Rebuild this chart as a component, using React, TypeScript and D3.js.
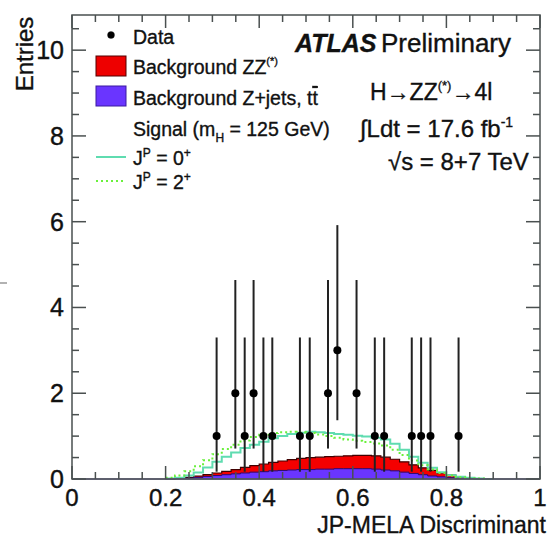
import React, { useEffect, useRef } from 'react';
import * as d3 from 'd3';

// histogram bins (width 0.02) starting at 0.20
const binStart = 0.2;
const binWidth = 0.02;
const zjets = [0.0, 0.01, 0.02, 0.04, 0.06, 0.08, 0.1, 0.12, 0.14, 0.16, 0.17, 0.19, 0.2, 0.21, 0.22, 0.22, 0.23, 0.23, 0.24, 0.24, 0.24, 0.24, 0.23, 0.21, 0.19, 0.16, 0.13, 0.1, 0.07, 0.05, 0.03, 0.02, 0.01, 0.005, 0.0];
const zz = [0.005, 0.01, 0.02, 0.03, 0.04, 0.06, 0.08, 0.1, 0.13, 0.15, 0.18, 0.2, 0.22, 0.24, 0.26, 0.28, 0.28, 0.29, 0.29, 0.3, 0.31, 0.31, 0.31, 0.3, 0.27, 0.24, 0.2, 0.16, 0.13, 0.09, 0.06, 0.03, 0.02, 0.005, 0.0];
const sig0 = [0.01, 0.03, 0.08, 0.15, 0.27, 0.4, 0.52, 0.62, 0.72, 0.8, 0.87, 0.95, 1.0, 1.05, 1.08, 1.1, 1.09, 1.07, 1.05, 1.03, 1.01, 0.99, 0.96, 0.92, 0.82, 0.68, 0.52, 0.38, 0.26, 0.16, 0.09, 0.05, 0.03, 0.01, 0.0];
const sig2 = [0.03, 0.08, 0.18, 0.3, 0.44, 0.58, 0.7, 0.8, 0.9, 0.98, 1.03, 1.07, 1.09, 1.1, 1.09, 1.07, 1.04, 1.0, 0.96, 0.92, 0.89, 0.86, 0.83, 0.78, 0.68, 0.56, 0.43, 0.32, 0.22, 0.14, 0.08, 0.04, 0.02, 0.01, 0.0];

// data points
const dataX = [0.309, 0.349, 0.369, 0.388, 0.409, 0.428, 0.487, 0.508, 0.547, 0.567, 0.608, 0.647, 0.667, 0.726, 0.746, 0.766, 0.826];
const dataY = [1, 2, 1, 2, 1, 1, 1, 1, 2, 3, 2, 1, 1, 1, 1, 1, 1];
const errLo = [0.83, 1.29, 0.83, 1.29, 0.83, 0.83, 0.83, 0.83, 1.29, 1.63, 1.29, 0.83, 0.83, 0.83, 0.83, 0.83, 0.83];
const errHi = [2.3, 2.64, 2.3, 2.64, 2.3, 2.3, 2.3, 2.3, 2.64, 2.92, 2.64, 2.3, 2.3, 2.3, 2.3, 2.3, 2.3];

const xTicks = [0, 0.2, 0.4, 0.6, 0.8, 1];
const yTicks = [0, 2, 4, 6, 8, 10];

const W = 549;
const H = 538;
const FONT = '"Liberation Sans", Arial, Helvetica, sans-serif';

export default function App() {
  const ref = useRef<SVGGElement>(null);

  useEffect(() => {
    const svg = d3.select(ref.current);
    svg.selectAll('*').remove();

    const left = 72, right = 540, top = 15, bottom = 479;
    const x = d3.scaleLinear().domain([0, 1]).range([left, right]);
    const y = d3.scaleLinear().domain([0, 10.82]).range([bottom, top]);

    const edges = (vals: number[]) => {
      const pts = vals.map((v, i) => ({ x: binStart + i * binWidth, y: v }));
      pts.push({ x: binStart + vals.length * binWidth, y: vals[vals.length - 1] });
      return pts;
    };

    const stacked = zjets.map((v, i) => v + zz[i]);

    const area = d3.area<{ x: number; y: number }>()
      .x(d => x(d.x))
      .y0(y(0))
      .y1(d => y(d.y))
      .curve(d3.curveStepAfter);
    const line = d3.line<{ x: number; y: number }>()
      .x(d => x(d.x))
      .y(d => y(d.y))
      .curve(d3.curveStepAfter);

    const g = svg.append('g');

    // ZZ on top of Z+jets
    g.append('path').datum(edges(stacked)).attr('d', area).attr('fill', '#f40000');
    g.append('path').datum(edges(stacked)).attr('d', line).attr('fill', 'none').attr('stroke', '#400000').attr('stroke-width', 1.2);
    g.append('path').datum(edges(zjets)).attr('d', area).attr('fill', '#6a35ff');
    g.append('path').datum(edges(zjets)).attr('d', line).attr('fill', 'none').attr('stroke', '#2a0a70').attr('stroke-width', 1);

    // signal hypotheses
    g.append('path').datum(edges(sig0)).attr('d', line).attr('fill', 'none').attr('stroke', '#5fdcb0').attr('stroke-width', 2);
    g.append('path').datum(edges(sig2)).attr('d', line).attr('fill', 'none').attr('stroke', '#6af03c').attr('stroke-width', 2).attr('stroke-dasharray', '2,3');

    // data with error bars
    const pts = dataX.map((v, i) => ({ x: v, y: dataY[i], lo: errLo[i], hi: errHi[i] }));
    g.selectAll('line.err').data(pts).join('line')
      .attr('class', 'err')
      .attr('x1', d => x(d.x)).attr('x2', d => x(d.x))
      .attr('y1', d => y(d.y - d.lo)).attr('y2', d => y(d.y + d.hi))
      .attr('stroke', '#222').attr('stroke-width', 2);
    g.selectAll('circle.pt').data(pts).join('circle')
      .attr('class', 'pt')
      .attr('cx', d => x(d.x)).attr('cy', d => y(d.y))
      .attr('r', 4).attr('fill', '#000');

    // baseline
    g.append('line').attr('x1', left).attr('x2', right).attr('y1', bottom).attr('y2', bottom)
      .attr('stroke', '#7a6ab0').attr('stroke-width', 1.5);

    // frame and ticks
    const frame = svg.append('g').attr('stroke', '#4a5050').attr('stroke-width', 1.5);
    frame.append('rect').attr('x', left).attr('y', top).attr('width', right - left).attr('height', bottom - top).attr('fill', 'none');

    const xMinor = d3.range(0, 1.0001, 0.05);
    const yMinor = d3.range(0, 10.8, 0.5);
    xMinor.forEach((v, i) => {
      const len = i % 4 === 0 ? 13 : 7;
      frame.append('line').attr('x1', x(v)).attr('x2', x(v)).attr('y1', bottom).attr('y2', bottom - len);
      frame.append('line').attr('x1', x(v)).attr('x2', x(v)).attr('y1', top).attr('y2', top + len);
    });
    yMinor.forEach((v, i) => {
      const len = i % 4 === 0 ? 14 : 7;
      frame.append('line').attr('x1', left).attr('x2', left + len).attr('y1', y(v)).attr('y2', y(v));
      frame.append('line').attr('x1', right).attr('x2', right - len).attr('y1', y(v)).attr('y2', y(v));
    });

    // tick labels
    svg.append('g').selectAll('text').data(xTicks).join('text')
      .attr('x', d => x(d)).attr('y', 506)
      .attr('text-anchor', 'middle')
      .attr('font-family', FONT).attr('font-size', 24).attr('fill', '#111')
      .attr('stroke', '#111').attr('stroke-width', 0.4)
      .text(d => d3.format('')(d));
    svg.append('g').selectAll('text').data(yTicks).join('text')
      .attr('x', 64).attr('y', d => y(d) + 9)
      .attr('text-anchor', 'end')
      .attr('font-family', FONT).attr('font-size', 25).attr('fill', '#111')
      .attr('stroke', '#111').attr('stroke-width', 0.4)
      .text(d => String(d));

    // stray mark at left edge
    svg.append('line').attr('x1', 0).attr('x2', 7).attr('y1', 283).attr('y2', 283).attr('stroke', '#999').attr('stroke-width', 1.5);
  }, []);

  const t = { fontFamily: FONT, fill: '#111', stroke: '#111', strokeWidth: 0.35 } as React.CSSProperties;

  return (
    <svg width={W} height={H} style={{ position: 'absolute', left: 0, top: 0, background: '#fff' }}>
      <g ref={ref} />
      <g style={t}>
        <text transform="translate(33,54) rotate(-90)" textAnchor="middle" fontSize={24}>Entries</text>
        <text x={546} y={533} textAnchor="end" fontSize={23}>JP-MELA Discriminant</text>

        {/* legend */}
        <circle cx={111} cy={35} r={3.5} fill="#000" />
        <text x={133} y={44} fontSize={19.5}>Data</text>
        <rect x={96} y={56} width={30} height={20} fill="#ee0000" stroke="#500" strokeWidth={1} />
        <text x={133} y={74} fontSize={19.5}>Background ZZ<tspan dy={-9} fontSize={11}>(*)</tspan></text>
        <rect x={96} y={86} width={30} height={20} fill="#6a35ff" stroke="#3a1aa0" strokeWidth={1} />
        <text x={133} y={105} fontSize={19.5}>Background Z+jets, t<tspan textDecoration="overline">t</tspan></text>
        <text x={133} y={136} fontSize={19.5}>Signal (m<tspan dy={6} fontSize={12}>H</tspan><tspan dy={-6}> = 125 GeV)</tspan></text>
        <line x1={96} x2={126} y1={157} y2={157} stroke="#5fdcb0" strokeWidth={2} />
        <text x={133} y={165} fontSize={19.5}>J<tspan dy={-8} fontSize={12}>P</tspan><tspan dy={8}> = 0</tspan><tspan dy={-8} fontSize={12}>+</tspan></text>
        <line x1={96} x2={126} y1={181} y2={181} stroke="#6af03c" strokeWidth={2} strokeDasharray="2,3" />
        <text x={133} y={189} fontSize={19.5}>J<tspan dy={-8} fontSize={12}>P</tspan><tspan dy={8}> = 2</tspan><tspan dy={-8} fontSize={12}>+</tspan></text>

        {/* labels */}
        <text x={295} y={52} fontSize={25} fontWeight="bold" fontStyle="italic">ATLAS</text>
        <text x={381} y={52} fontSize={26}>Preliminary</text>
        <text x={370} y={100} fontSize={23}>H→ZZ<tspan dy={-10} fontSize={13}>(*)</tspan><tspan dy={10}>→4l</tspan></text>
        <text x={360} y={137} fontSize={24}>∫Ldt = 17.6 fb<tspan dy={-10} fontSize={14}>-1</tspan></text>
        <text x={388} y={170} fontSize={24}>√s = 8+7 TeV</text>
      </g>
    </svg>
  );
}
